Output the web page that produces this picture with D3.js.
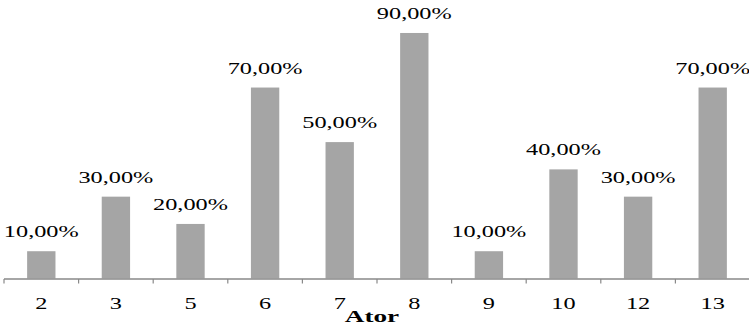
<!DOCTYPE html>
<html>
<head>
<meta charset="utf-8">
<script src="https://cdn.jsdelivr.net/npm/d3@7"></script>
<style>
  html, body { margin: 0; padding: 0; background: #fff; }
  svg { display: block; }
  text { font-family: "Liberation Serif", "Times New Roman", serif; fill: #000; }
</style>
</head>
<body>
<svg id="chart" width="749" height="327"></svg>
<script>
// Share of each actor (percent)
const categories = ["2", "3", "5", "6", "7", "8", "9", "10", "12", "13"];
const values = [10, 30, 20, 70, 50, 90, 10, 40, 30, 70];
const axisTitle = "Ator";

const W = 749, H = 327;
const svg = d3.select("#chart");

const x = d3.scaleBand().domain(categories).range([4, 750]).padding(0);
const y = d3.scaleLinear().domain([0, 100]).range([278.5, 5.7]);

const barFrac = 0.38;
const sx = 1.43; // horizontal stretch applied to all text

// bars
svg.append("g").selectAll("rect")
  .data(values)
  .join("rect")
  .attr("x", (d, i) => x(categories[i]) + x.bandwidth() * (1 - barFrac) / 2)
  .attr("width", x.bandwidth() * barFrac)
  .attr("y", d => y(d))
  .attr("height", d => y(0) - y(d))
  .attr("fill", "#a5a5a5");

// value labels
const fmt = d => d3.format(".2f")(d).replace(".", ",") + "%";
svg.append("g").selectAll("text")
  .data(values)
  .join("text")
  .attr("transform", (d, i) => `translate(${x(categories[i]) + x.bandwidth() / 2},${y(d) - 14}) scale(${sx},1)`)
  .attr("text-anchor", "middle")
  .attr("font-size", 17)
  .text(fmt);

// category axis: line, boundary ticks, labels
const axisG = svg.append("g");
const x0 = x.range()[0], x1 = x.range()[1];
axisG.append("line")
  .attr("x1", x0).attr("x2", x1)
  .attr("y1", y(0) + 0.5).attr("y2", y(0) + 0.5)
  .attr("stroke", "#898989").attr("stroke-width", 1.5);
const bounds = categories.map(c => x(c)).concat([x1]);
axisG.selectAll("line.tick")
  .data(bounds)
  .join("line")
  .attr("class", "tick")
  .attr("x1", d => d).attr("x2", d => d)
  .attr("y1", y(0) + 0.5).attr("y2", y(0) + 5)
  .attr("stroke", "#898989").attr("stroke-width", 1.2);
axisG.selectAll("text")
  .data(categories)
  .join("text")
  .attr("transform", c => `translate(${x(c) + x.bandwidth() / 2},309) scale(${sx},1)`)
  .attr("text-anchor", "middle")
  .attr("font-size", 17)
  .text(c => c);

svg.append("text")
  .attr("transform", `translate(372,322) scale(1.6,1)`)
  .attr("text-anchor", "middle")
  .attr("font-size", 17)
  .attr("font-weight", "bold")
  .text(axisTitle);
</script>
</body>
</html>
